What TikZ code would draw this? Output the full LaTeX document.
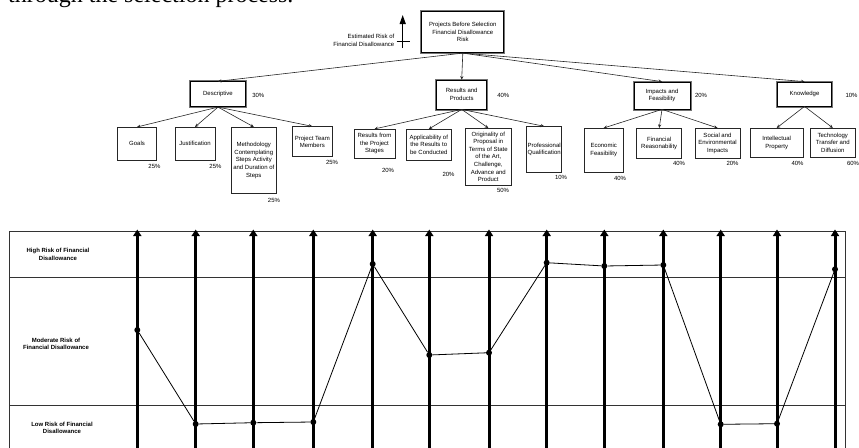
\documentclass[tikz,border=0pt]{standalone}
\usepackage{fontspec}
\setmainfont{Liberation Sans}
\newfontfamily\serifbody{Liberation Serif}
\usetikzlibrary{arrows.meta}
\begin{document}
\begin{tikzpicture}[x=1pt,y=-1pt,
 txt/.style={font=\fontsize{6}{7.6}\selectfont, inner sep=0pt, align=center},
 box/.style={txt, draw=black!85, line width=0.7pt, fill=white},
 topbox/.style={txt, draw=black, line width=0.8pt, fill=white, preaction={draw=black!55, line width=3pt}},
 arr/.style={-{Stealth[length=3.5pt,width=3.2pt]}, line width=0.6pt, draw=black!85},
 bigarr/.style={-{Triangle[length=6.5pt,width=8pt]}, line width=3pt},
 dot/.style={circle, fill=black, inner sep=0pt, minimum size=6pt},
 rowlab/.style={font=\bfseries\fontsize{6}{7.6}\selectfont, align=center, inner sep=0pt},
 grid/.style={draw=black!80, line width=0.8pt}
]
\useasboundingbox (0,0) rectangle (859,447);

% caption fragment at top (cut off)
\node[anchor=base west, inner sep=0pt, font=\serifbody\fontsize{24}{24}\selectfont] (cap) at (8,2.5) {through the selection process.};

% estimated risk indicator
\coordinate (ea) at (402.7,48);
\coordinate (eb) at (402.7,15);
\coordinate (ec) at (396.7,41.7);
\coordinate (ed) at (410,41.7);
\draw[-{Triangle[length=9pt,width=6pt]}, line width=1.3pt] (ea) -- (eb);
\draw[line width=0.6pt] (ec) -- (ed);
\node[txt, align=right, anchor=east] (est) at (394.5,40.2) {Estimated Risk of\\Financial Disallowance};

% root
\node[topbox, minimum width=82pt, minimum height=41pt] (root) at (462.8,32.2) {Projects Before Selection\\Financial Disallowance\\Risk};

% level 1
\node[topbox, minimum width=54.6pt, minimum height=25pt] (desc) at (218,94.2) {Descriptive};
\node[topbox, minimum width=50pt, minimum height=29pt] (res) at (461.7,94.5) {Results and\\Products};
\node[topbox, minimum width=56pt, minimum height=27pt] (imp) at (662,95.5) {Impacts and\\Feasibility};
\node[topbox, minimum width=54.4pt, minimum height=24pt] (know) at (804.5,94) {Knowledge};

\node[txt] (pdesc) at (258.3,95) {30\%};
\node[txt] (pres) at (503.3,95) {40\%};
\node[txt] (pimp) at (701,95) {20\%};
\node[txt] (pknow) at (851.5,95) {10\%};

\draw[arr] (root.south) -- (desc.north);
\draw[arr] (root.south) -- (res.north);
\draw[arr] (root.south) -- (imp.north);
\draw[arr] (root.south) -- (know.north);

% level 2 - Descriptive
\node[box, minimum width=39.4pt, minimum height=32.7pt] (goals) at (137,143.7) {Goals};
\node[box, minimum width=40pt, minimum height=32.7pt] (just) at (195,143.7) {Justification};
\node[box, minimum width=45.7pt, minimum height=66pt] (meth) at (253.8,160.3) {Methodology\\Contemplating\\Steps Activity\\and Duration of\\Steps};
\node[box, minimum width=40pt, minimum height=30pt] (team) at (312.3,141.7) {Project Team\\Members};

\node[txt] (pgoals) at (154.5,166.7) {25\%};
\node[txt] (pjust) at (215.5,166.7) {25\%};
\node[txt] (pmeth) at (274,200) {25\%};
\node[txt] (pteam) at (332,162) {25\%};

\foreach \n in {goals,just,meth,team} \draw[arr] (desc.south) -- (\n.north);

% level 2 - Results
\node[box, minimum width=41pt, minimum height=29pt] (rfp) at (374.5,143.8) {Results from\\the Project\\Stages};
\node[box, minimum width=45.7pt, minimum height=30.7pt] (app) at (428.8,144.7) {Applicability of\\the Results to\\be Conducted};
\node[box, minimum width=46.7pt, minimum height=56.7pt] (orig) at (488.3,156.7) {Originality of\\Proposal in\\Terms of State\\of the Art,\\Challenge,\\Advance and\\Product};
\node[box, minimum width=35pt, minimum height=45.3pt] (prof) at (544.2,149.3) {Professional\\Qualification};

\node[txt] (prfp) at (388,170.7) {20\%};
\node[txt] (papp) at (448.5,174) {20\%};
\node[txt] (porig) at (503,190.7) {50\%};
\node[txt] (pprof) at (561,177.3) {10\%};

\foreach \n in {rfp,app,orig,prof} \draw[arr] (res.south) -- (\n.north);

% level 2 - Impacts
\node[box, minimum width=39.3pt, minimum height=43.7pt] (econ) at (603.7,150.2) {Economic\\Feasibility};
\node[box, minimum width=45pt, minimum height=30pt] (fin) at (659.2,143.3) {Financial\\Reasonability};
\node[box, minimum width=45pt, minimum height=30pt] (soc) at (717.5,143.3) {Social and\\Environmental\\Impacts};

\node[txt] (pecon) at (620,178) {40\%};
\node[txt] (pfin) at (679,163.3) {40\%};
\node[txt] (psoc) at (732.5,163.3) {20\%};

\foreach \n in {econ,fin,soc} \draw[arr] (imp.south) -- (\n.north);

% level 2 - Knowledge
\node[box, minimum width=53.3pt, minimum height=29pt] (ip) at (776.7,142.8) {Intellectual\\Property};
\node[box, minimum width=45.7pt, minimum height=29pt] (tech) at (832.8,142.8) {Technology\\Transfer and\\Diffusion};

\node[txt] (pip) at (797.5,163.3) {40\%};
\node[txt] (ptech) at (853,163.3) {60\%};

\foreach \n in {ip,tech} \draw[arr] (know.south) -- (\n.north);

% chart grid
\draw[grid] (9.3,450) -- (9.3,231.5) -- (845.7,231.5) -- (845.7,450);
\draw[grid] (9.3,277.7) -- (845.7,277.7);
\draw[grid] (9.3,405) -- (845.7,405);

\node[rowlab] (high) at (58,254.2) {High Risk of Financial\\Disallowance};
\node[rowlab] (mod) at (56,343.7) {Moderate Risk of\\Financial Disallowance};
\node[rowlab] (low) at (62,427.8) {Low Risk of Financial\\Disallowance};

\foreach \i/\x/\y in {1/137.3/330, 2/195.7/424, 3/253.3/422.7, 4/313.3/422, 5/372.7/264, 6/429.3/355, 7/489/352.7, 8/546.7/262.7, 9/604.3/266, 10/663.3/265, 11/720.7/424.3, 12/777/423.7, 13/835/269.3} {
  \coordinate (b\i) at (\x,450);
  \coordinate (t\i) at (\x,229.5);
  \draw[bigarr] (b\i) -- (t\i);
  \node[dot] (p\i) at (\x,\y) {};
}
\draw[line width=0.8pt] (p1) -- (p2) -- (p3) -- (p4) -- (p5) -- (p6) -- (p7) -- (p8) -- (p9) -- (p10) -- (p11) -- (p12) -- (p13);
\end{tikzpicture}
\end{document}
